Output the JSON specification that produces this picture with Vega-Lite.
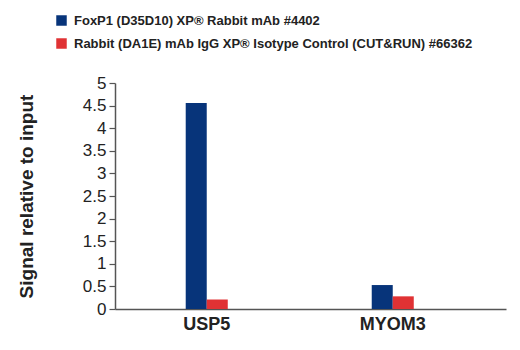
{
  "$schema": "https://vega.github.io/schema/vega-lite/v6.json",
  "autosize": {"type": "none"},
  "padding": {"left": 115, "top": 83, "right": 14, "bottom": 41},
  "width": 391,
  "height": 226,
  "config": {
    "font": "Liberation Sans, Arial, sans-serif",
    "view": {"stroke": null}
  },
  "data": {
    "values": [
      {"gene": "USP5", "antibody": "FoxP1 (D35D10) XP® Rabbit mAb #4402", "value": 4.56},
      {"gene": "USP5", "antibody": "Rabbit (DA1E) mAb IgG XP® Isotype Control (CUT&RUN) #66362", "value": 0.21},
      {"gene": "MYOM3", "antibody": "FoxP1 (D35D10) XP® Rabbit mAb #4402", "value": 0.53},
      {"gene": "MYOM3", "antibody": "Rabbit (DA1E) mAb IgG XP® Isotype Control (CUT&RUN) #66362", "value": 0.28}
    ]
  },
  "mark": {"type": "bar"},
  "encoding": {
    "x": {
      "field": "gene", "type": "nominal", "sort": ["USP5", "MYOM3"],
      "scale": {"paddingInner": 0.774, "paddingOuter": 0.438, "align": 0.434},
      "axis": {
        "title": null, "labelAngle": 0, "labelFontSize": 18, "labelFontWeight": "bold",
        "labelColor": "#222", "ticks": false, "labelPadding": 6,
        "domainColor": "#555", "domainWidth": 1.5
      }
    },
    "xOffset": {
      "field": "antibody", "type": "nominal",
      "scale": {"paddingInner": 0, "paddingOuter": 0}
    },
    "y": {
      "field": "value", "type": "quantitative",
      "scale": {"domain": [0, 5], "nice": false},
      "axis": {
        "title": "Signal relative to input", "titleFontSize": 19, "titleFontWeight": "bold",
        "titleColor": "#222", "titlePadding": 46,
        "values": [0, 0.5, 1, 1.5, 2, 2.5, 3, 3.5, 4, 4.5, 5],
        "format": ".1~f",
        "labelFontSize": 17, "labelColor": "#222", "labelPadding": 3,
        "grid": false, "tickColor": "#555", "tickSize": 6, "tickWidth": 1.2,
        "domainColor": "#555", "domainWidth": 1.5
      }
    },
    "color": {
      "field": "antibody", "type": "nominal",
      "scale": {"range": ["#07347a", "#e03234"]},
      "legend": {
        "title": null, "orient": "none", "legendX": -60, "legendY": -69,
        "symbolType": "square", "symbolSize": 110, "symbolStrokeWidth": 0,
        "labelFontSize": 13, "labelFontWeight": "bold", "labelColor": "#222",
        "rowPadding": 9, "labelOffset": 6, "labelLimit": 500
      }
    }
  }
}
